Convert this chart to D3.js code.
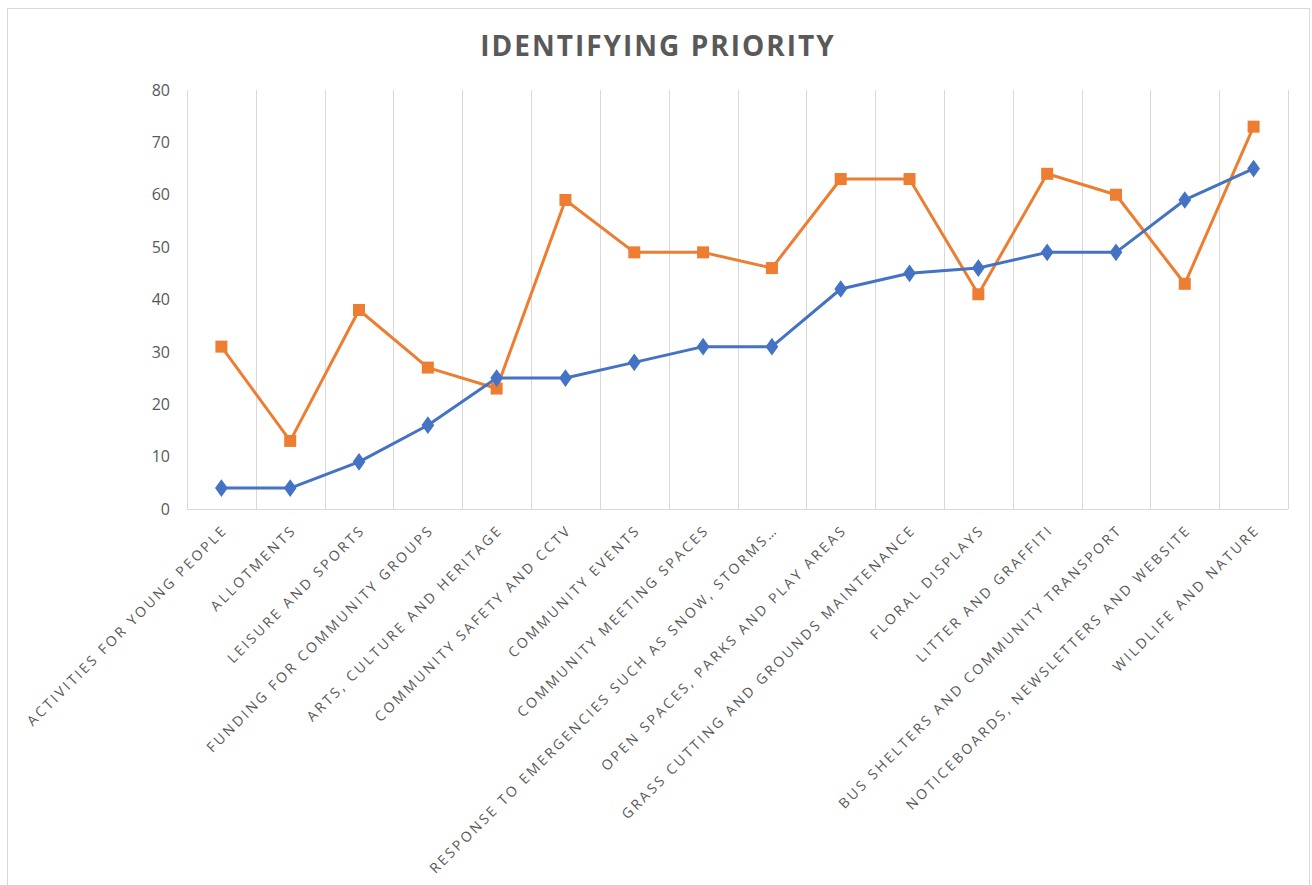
<!DOCTYPE html>
<html>
<head>
<meta charset="utf-8">
<script src="https://cdn.jsdelivr.net/npm/d3@7"></script>
<style>
  body { margin: 0; background: #fff; }
  text { font-family: 'Open Sans', sans-serif; fill: #595959; }
</style>
</head>
<body>
<script>
/* chart data */
const categories = [
  'ACTIVITIES FOR YOUNG PEOPLE', 'ALLOTMENTS', 'LEISURE AND SPORTS',
  'FUNDING FOR COMMUNITY GROUPS', 'ARTS, CULTURE AND HERITAGE',
  'COMMUNITY SAFETY AND CCTV', 'COMMUNITY EVENTS', 'COMMUNITY MEETING SPACES',
  'RESPONSE TO EMERGENCIES SUCH AS SNOW, STORMS…', 'OPEN SPACES, PARKS AND PLAY AREAS',
  'GRASS CUTTING AND GROUNDS MAINTENANCE', 'FLORAL DISPLAYS', 'LITTER AND GRAFFITI',
  'BUS SHELTERS AND COMMUNITY TRANSPORT', 'NOTICEBOARDS, NEWSLETTERS AND WEBSITE',
  'WILDLIFE AND NATURE'
];
const blueValues = [4, 4, 9, 16, 25, 25, 28, 31, 31, 42, 45, 46, 49, 49, 59, 65];
const orangeValues = [31, 13, 38, 27, 23, 59, 49, 49, 46, 63, 63, 41, 64, 60, 43, 73];
const yTicks = [0, 10, 20, 30, 40, 50, 60, 70, 80];

// margin b/w plot and svg canvas
let margin = { top: 90, right: 24, bottom: 376, left: 187 },
  width = 1312 - margin.left - margin.right,
  height = 885 - margin.top - margin.bottom;

/* scales */
const xScale = d3.scaleBand().domain(categories).range([0, width]);
const yScale = d3.scaleLinear().domain([0, 80]).range([height, 0]);

const root = d3.select('body').append('svg')
  .attr('width', 1312)
  .attr('height', 885);

// chart frame
root.append('rect')
  .attr('x', 7.5).attr('y', 8.5)
  .attr('width', 1302).attr('height', 900)
  .attr('fill', '#fff')
  .attr('stroke', '#d9d9d9');

const svg = root.append('g')
  .attr('transform', 'translate(' + margin.left + ',' + margin.top + ')');

/* vertical gridlines at category boundaries */
const bounds = categories.map(c => xScale(c)).concat([width]);
svg.selectAll('.grid')
  .data(bounds)
  .enter().append('line')
  .attr('class', 'grid')
  .attr('x1', d => Math.round(d) + 0.5).attr('x2', d => Math.round(d) + 0.5)
  .attr('y1', 0).attr('y2', height)
  .attr('stroke', '#d9d9d9');

/* x axis line */
svg.append('line')
  .attr('x1', 0).attr('x2', width)
  .attr('y1', height + 0.5).attr('y2', height + 0.5)
  .attr('stroke', '#d9d9d9');

/* y axis labels (no line, no ticks) */
const yAxis = d3.axisLeft(yScale).tickValues(yTicks).tickSize(0).tickPadding(17);
svg.append('g').call(yAxis)
  .call(g => g.select('.domain').remove())
  .selectAll('text')
  .style('font-size', '16px')
  .style('fill', '#595959');

/* category labels, rotated */
const xAxis = d3.axisBottom(xScale).tickSize(0);
svg.append('g')
  .attr('transform', 'translate(0,' + height + ')')
  .call(xAxis)
  .call(g => g.select('.domain').remove())
  .selectAll('text')
  .attr('text-anchor', 'end')
  .attr('dy', 0)
  .attr('y', 0)
  .attr('transform', 'translate(7,22) rotate(-45)')
  .style('font-size', '14px')
  .style('letter-spacing', '2.6px')
  .style('fill', '#595959');

/* lines */
const cx = i => xScale(categories[i]) + xScale.bandwidth() / 2;
const line = d3.line().x((d, i) => cx(i)).y(d => yScale(d));

svg.append('path')
  .datum(orangeValues)
  .attr('fill', 'none')
  .attr('stroke', '#ED7D31')
  .attr('stroke-width', 3)
  .attr('stroke-linejoin', 'round')
  .attr('d', line);

svg.append('path')
  .datum(blueValues)
  .attr('fill', 'none')
  .attr('stroke', '#4472C4')
  .attr('stroke-width', 3)
  .attr('stroke-linejoin', 'round')
  .attr('d', line);

/* markers */
svg.selectAll('.sq')
  .data(orangeValues)
  .enter().append('rect')
  .attr('class', 'sq')
  .attr('x', (d, i) => cx(i) - 6)
  .attr('y', d => yScale(d) - 6)
  .attr('width', 12).attr('height', 12)
  .attr('fill', '#ED7D31');

const diamond = d3.symbol().type(d3.symbolDiamond).size(90);
svg.selectAll('.dm')
  .data(blueValues)
  .enter().append('path')
  .attr('class', 'dm')
  .attr('d', diamond)
  .attr('transform', (d, i) => 'translate(' + cx(i) + ',' + yScale(d) + ') scale(1.25,1)')
  .attr('fill', '#4472C4');

/* title */
root.append('text')
  .attr('x', 658)
  .attr('y', 56)
  .attr('text-anchor', 'middle')
  .style('font-size', '28px')
  .style('font-weight', 'bold')
  .style('letter-spacing', '2px')
  .text('IDENTIFYING PRIORITY');
</script>
</body>
</html>
